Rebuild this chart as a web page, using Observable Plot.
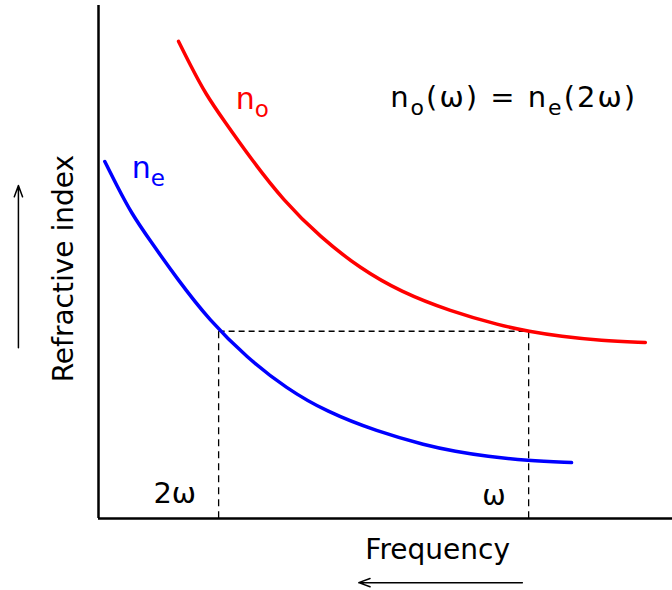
<!DOCTYPE html>
<html><head><meta charset="utf-8">
<script src="https://cdn.jsdelivr.net/npm/d3@7"></script>
<script src="https://cdn.jsdelivr.net/npm/@observablehq/plot@0.6"></script>
<style>body{margin:0;background:#fff}</style>
</head><body><div id="chart"></div>
<script>
// Ordinary index n_o (red) — frequency (arbitrary units, 0–10) and index (arbitrary units, 0–10)
const ordinaryFreq  = [1.40, 1.61, 1.87, 2.19, 2.66, 3.23, 3.88, 4.58, 5.28, 6.15, 7.03, 7.52, 8.08, 8.78, 9.56];
const ordinaryIndex = [9.30, 8.83, 8.28, 7.76, 7.02, 6.20, 5.48, 4.87, 4.42, 4.04, 3.76, 3.65, 3.55, 3.47, 3.43];
// Extraordinary index n_e (blue)
const extraFreq  = [0.11, 0.32, 0.58, 0.90, 1.37, 1.94, 2.59, 3.29, 3.99, 4.86, 5.74, 6.23, 6.79, 7.49, 8.27];
const extraIndex = [6.96, 6.49, 5.94, 5.42, 4.68, 3.86, 3.14, 2.53, 2.08, 1.70, 1.42, 1.31, 1.21, 1.13, 1.09];
// Phase matching
const freqOmega = 7.52, freq2Omega = 2.10, matchIndex = 3.65;

const ordinary = ordinaryFreq.map((f, i) => ({f, n: ordinaryIndex[i]}));
const extra = extraFreq.map((f, i) => ({f, n: extraIndex[i]}));

const labels = [
  {x: 2.40, y: 7.99, t: "n_{o}", c: "#ff0000", s: 30},
  {x: 0.58, y: 6.63, t: "n_{e}", c: "#0000ff", s: 30},
  {x: 5.10, y: 8.03, t: "n_{o}(ω)\u00a0=\u00a0n_{e}(2ω)", c: "#000", s: 29},
  {x: 0.96, y: 0.31, t: "2ω", c: "#000", s: 29},
  {x: 6.71, y: 0.27, t: "ω", c: "#000", s: 28}
];

const plot = Plot.plot({
  width: 672, height: 590,
  marginLeft: 98, marginRight: 2, marginTop: 5, marginBottom: 72,
  x: {domain: [0, 10], axis: null},
  y: {domain: [0, 10], axis: null},
  style: {fontFamily: "DejaVu Sans", background: "white"},
  marks: [
    Plot.link([{x1: freq2Omega, x2: freqOmega, y: matchIndex}], {x1: "x1", x2: "x2", y1: "y", y2: "y", stroke: "black", strokeWidth: 1.3, strokeDasharray: "6,4"}),
    Plot.link([freq2Omega, freqOmega], {x1: d => d, x2: d => d, y1: matchIndex, y2: 0, stroke: "black", strokeWidth: 1.3, strokeDasharray: "7,5"}),
    Plot.line(ordinary, {x: "f", y: "n", stroke: "#ff0000", strokeWidth: 3.5, curve: "basis"}),
    Plot.line(extra, {x: "f", y: "n", stroke: "#0000ff", strokeWidth: 3.5, curve: "basis"}),
    Plot.ruleX([0], {y1: 0, y2: 10, stroke: "black", strokeWidth: 2.5}),
    Plot.ruleY([0], {x1: 0, x2: 10.04, stroke: "black", strokeWidth: 2.5}),
    Plot.text(labels, {x: "x", y: "y", text: "t", fill: "c", fontSize: "s", textAnchor: "start", lineAnchor: "bottom"}),
    Plot.text(["Frequency"], {x: 5.93, y: -0.78, text: d => d, textAnchor: "middle", lineAnchor: "bottom", fontSize: 28, fill: "black"}),
    Plot.text(["Refractive index"], {x: -0.45, y: 4.87, text: d => d, rotate: -90, textAnchor: "middle", lineAnchor: "bottom", fontSize: 28, fill: "black"}),
    Plot.arrow([{x1: -1.40, y1: 3.33, x2: -1.40, y2: 6.49}, {x1: 7.41, y1: -1.25, x2: 4.55, y2: -1.25}],
      {x1: "x1", y1: "y1", x2: "x2", y2: "y2", stroke: "black", strokeWidth: 1.5, headLength: 12, headAngle: 40})
  ]
});

// Convert "_{x}" markup into subscript tspans
d3.select(plot).selectAll("text").each(function() {
  const el = this;
  const s = el.textContent;
  if (!s.includes("_{")) return;
  const fs = parseFloat(el.getAttribute("font-size") || getComputedStyle(el).fontSize) || 28;
  const subSize = Math.round(fs * 0.75), shift = Math.round(fs * 0.28);
  if (s.includes("=")) el.style.letterSpacing = "2px";
  el.textContent = "";
  const parts = s.split(/(_\{[^}]*\})/);
  let sub = false;
  for (const p of parts) {
    if (!p) continue;
    const m = p.match(/^_\{(.*)\}$/);
    const ts = d3.select(el).append("tspan");
    if (m) {
      ts.text(m[1]).attr("font-size", subSize).attr("dy", shift);
      sub = true;
    } else {
      ts.text(p);
      if (sub) { ts.attr("dy", -shift); sub = false; }
    }
  }
});

document.getElementById("chart").append(plot);
</script>
</body></html>
